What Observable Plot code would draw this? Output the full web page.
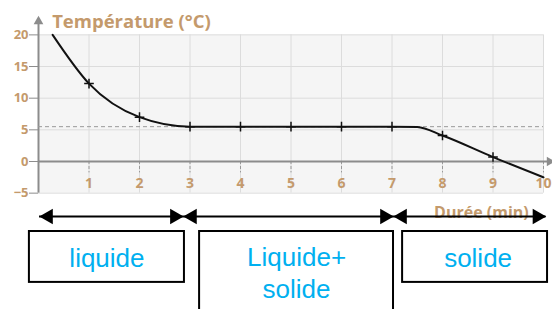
<!DOCTYPE html>
<html>
<head>
<meta charset="utf-8">
<script src="https://cdn.jsdelivr.net/npm/d3@7"></script>
<script src="https://cdn.jsdelivr.net/npm/@observablehq/plot@0.6"></script>
<style>
  html, body { margin: 0; padding: 0; background: #fff; }
  #chart svg { display: block; }
</style>
</head>
<body>
<div id="chart"></div>
<script>
// ---- data ----
const time = [0.28, 1, 2, 3, 4, 5, 6, 7, 7.5, 8, 9, 10];
const temperature = [20, 12.3, 7.0, 5.5, 5.5, 5.5, 5.5, 5.5, 5.45, 4.1, 0.7, -2.5];
const markTime = [1, 2, 3, 4, 5, 6, 7, 8, 9];
const plateauTemp = 5.5;
const xTicks = [1, 2, 3, 4, 5, 6, 7, 8, 9, 10];
const yTicks = [-5, 0, 5, 10, 15, 20];
const yGrid = [-5, 5, 10, 15, 20];
const phaseLabels = ["liquide", "Liquide+", "solide", "solide"];
const phaseBounds = [0.02, 2.87, 7.03, 10.05];

const curve = time.map((t, i) => ({t, T: temperature[i]}));
const marks = curve.filter(d => markTime.includes(d.t));

const tan = "#c49a6c";
const grayAxis = "#8c8c8c";
const blue = "#00b0f0";
const fontA = "'Open Sans', Lato, sans-serif";
const fontB = "'Liberation Sans', Arial, sans-serif";

// annotation layout (data units)
const arrowY = -8.69;
const boxTop = -11.06, boxBot = -19.1;
const boxes = [
  {x1: -0.18, x2: 2.89, y1: boxTop, y2: boxBot},
  {x1: 3.19, x2: 7.03, y1: boxTop, y2: -26},
  {x1: 7.21, x2: 10.08, y1: boxTop, y2: boxBot}
];
const boxText = [
  {x: (boxes[0].x1 + boxes[0].x2) / 2, y: -15.39, s: phaseLabels[0]},
  {x: (boxes[1].x1 + boxes[1].x2) / 2, y: -15.12, s: phaseLabels[1]},
  {x: (boxes[1].x1 + boxes[1].x2) / 2, y: -20.17, s: phaseLabels[2]},
  {x: (boxes[2].x1 + boxes[2].x2) / 2 + 0.06, y: -15.39, s: phaseLabels[3]}
];
const arrows = d3.pairs(phaseBounds).map(([a, b]) => ({a, b}));

const chart = Plot.plot({
  width: 552,
  height: 309,
  marginLeft: 38,
  marginRight: 9,
  marginTop: 0,
  marginBottom: 0,
  x: {domain: [0, 10], axis: null},
  y: {domain: [-23.38, 25.43], axis: null},
  style: {background: "#fff", fontFamily: fontA},
  marks: [
    // plot area background
    Plot.rect([{}], {x1: 0, x2: 10, y1: -5, y2: 20, fill: "#f5f5f5"}),
    // grid
    Plot.ruleX(xTicks, {y1: -5, y2: 20, stroke: "#dcdcdc", strokeWidth: 1}),
    Plot.ruleY(yGrid, {x1: 0, x2: 10, stroke: "#dcdcdc", strokeWidth: 1}),
    // small dashed ticks under the time axis
    Plot.ruleX(xTicks, {y1: 0, y2: -1.8, stroke: "#999", strokeWidth: 1, strokeDasharray: "3,2"}),
    // y axis with ticks
    Plot.axisY(yTicks, {anchor: "left", tickSize: 9, tickPadding: 1, stroke: grayAxis, fill: tan,
      fontWeight: "bold", fontSize: 13, fontFamily: fontA,
      tickFormat: d => d < 0 ? "\u2212" + (-d) : String(d)}),
    Plot.ruleX([0], {y1: -5, y2: 22.2, stroke: grayAxis, strokeWidth: 2}),
    Plot.dot([0], {x: d => d, y: 22.6, symbol: "triangle", r: 3.6, fill: grayAxis, stroke: "none", dy: 3}),
    // time axis
    Plot.ruleY([0], {x1: 0, x2: 10.1, stroke: grayAxis, strokeWidth: 2}),
    Plot.dot([0], {x: 10.18, y: d => d, symbol: "triangle", r: 3.6, rotate: 90, fill: grayAxis, stroke: "none", dx: -3}),
    Plot.text(xTicks, {x: d => d, y: -3.55, text: d => String(d), fill: tan, fontWeight: "bold", fontSize: 14, fontFamily: fontA}),
    // titles
    Plot.text(["Température (°C)"], {x: 0.27, y: 22.1, text: d => d, textAnchor: "start", fill: tan, fontWeight: "bold", fontSize: 18.5, fontFamily: fontA}),
    Plot.text(["Durée (min)"], {x: 8.77, y: -8.05, text: d => d, fill: tan, fontWeight: "bold", fontSize: 16, fontFamily: fontA}),
    // plateau reference
    Plot.ruleY([plateauTemp], {x1: 0, x2: 10, stroke: "#9a9a9a", strokeWidth: 1, strokeDasharray: "4,3"}),
    // cooling curve
    Plot.line(curve, {x: "t", y: "T", curve: "monotone-x", stroke: "#111", strokeWidth: 2}),
    Plot.dot(marks, {x: "t", y: "T", symbol: "plus", r: 3.2, stroke: "#111", strokeWidth: 1.5}),
    // phase arrows
    Plot.ruleY(arrows, {x1: "a", x2: "b", y: arrowY, stroke: "#000", strokeWidth: 2}),
    Plot.dot(arrows, {x: "a", y: arrowY, symbol: "triangle", r: 5.8, rotate: -90, dx: 8.8, fill: "#000", stroke: "none"}),
    Plot.dot(arrows, {x: "b", y: arrowY, symbol: "triangle", r: 5.8, rotate: 90, dx: -8.8, fill: "#000", stroke: "none"}),
    // phase boxes
    Plot.rect(boxes, {x1: "x1", x2: "x2", y1: "y1", y2: "y2", fill: "#fff", stroke: "#000", strokeWidth: 2}),
    Plot.text(boxText, {x: "x", y: "y", text: "s", fill: blue, fontSize: 26, fontFamily: fontB})
  ]
});
document.getElementById("chart").appendChild(chart);
</script>
</body>
</html>
